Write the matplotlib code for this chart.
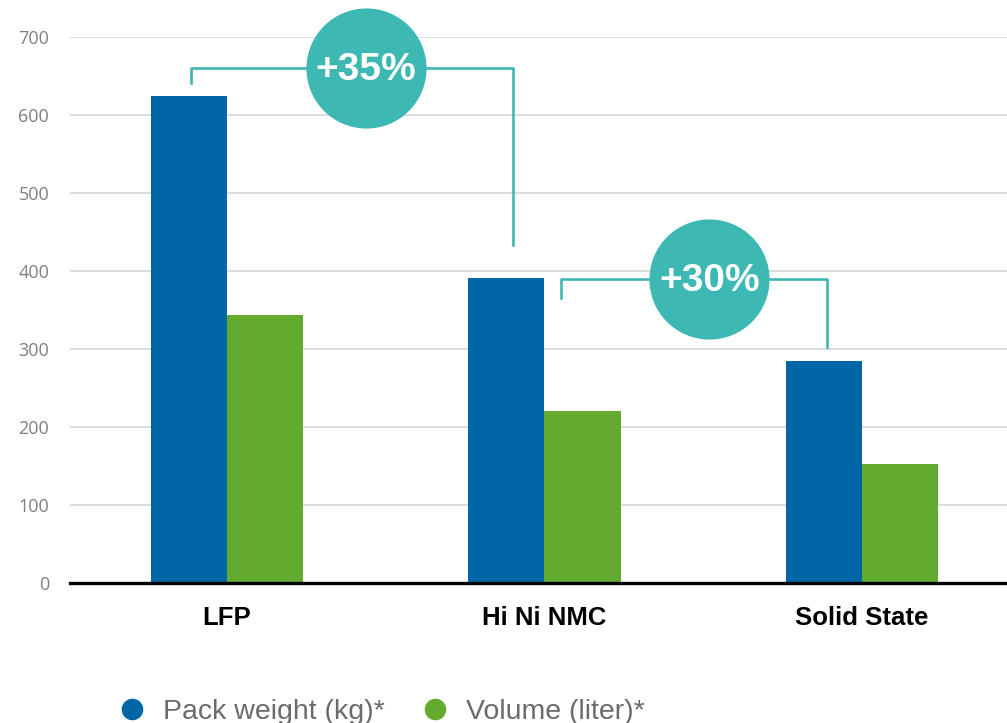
import numpy as np
import matplotlib.pyplot as plt
from matplotlib.lines import Line2D

plt.rcParams['font.family'] = ['Liberation Sans', 'DejaVu Sans']

categories = ['LFP', 'Hi Ni NMC', 'Solid State']
pack_weight = [625, 391, 285]
volume = [344, 221, 153]
yticks = [0, 100, 200, 300, 400, 500, 600, 700]

blue = '#0066a8'
green = '#63ab2f'
teal = '#3db8b3'

fig = plt.figure(figsize=(10.07, 7.23), dpi=100)
ax = fig.add_axes([0.0695, 0.1932, 0.9305, 0.7552])

x = np.arange(len(categories))
w = 0.24
ax.bar(x - w / 2, pack_weight, w, color=blue, zorder=2)
ax.bar(x + w / 2, volume, w, color=green, zorder=2)

ax.set_xlim(-0.494, 2.457)
ax.set_ylim(0, 700)
ax.set_yticks(yticks)
ax.set_xticks(x)
ax.set_xticklabels(categories, fontsize=18.5, fontweight='bold')
ax.tick_params(axis='x', length=0, pad=16)
ax.tick_params(axis='y', length=0, pad=15, labelsize=13, labelcolor='#808080')
for t in ax.get_yticklabels():
    t.set_family(['Open Sans', 'DejaVu Sans'])
ax.grid(axis='y', color='#d9d9d9', linewidth=1.3, zorder=0)
for s in ['top', 'right', 'left']:
    ax.spines[s].set_visible(False)
ax.spines['bottom'].set_linewidth(2.4)
ax.spines['bottom'].set_zorder(3)

# brackets comparing pack weight between chemistries
def bracket(x0, y0, x1, y1, ytop, cx, label):
    ax.plot([x0, x0, x1, x1], [y0, ytop, ytop, y1], color=teal,
            linewidth=1.9, clip_on=False, zorder=4)
    ax.plot([cx], [ytop], marker='o', markersize=86.5, color=teal,
            markeredgewidth=0, clip_on=False, zorder=5)
    ax.text(cx, ytop - 2, label, color='white', fontsize=28, fontweight='bold',
            ha='center', va='center', zorder=6, clip_on=False)

bracket(-0.1125, 641, 0.90, 434, 660.6, 0.438, '+35%')
bracket(1.051, 366, 1.891, 303, 390, 1.52, '+30%')

handles = [
    Line2D([], [], marker='o', linestyle='none', color=blue, markersize=14.5),
    Line2D([], [], marker='o', linestyle='none', color=green, markersize=14.5),
]
leg = fig.legend(handles, ['Pack weight (kg)*', 'Volume (liter)*'],
                 loc='center left', bbox_to_anchor=(0.0914, 0.0155),
                 frameon=False, ncol=2, fontsize=20.5, handletextpad=0.59,
                 columnspacing=1.25, handlelength=1.0)
for t in leg.get_texts():
    t.set_color('#6b6b6b')

fig.savefig('out.png', dpi=100)
